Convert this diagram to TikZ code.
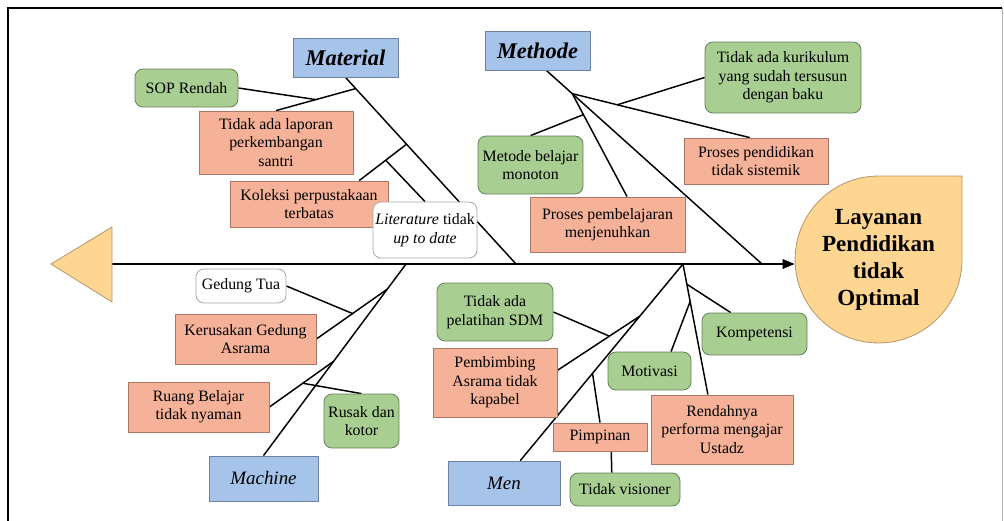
\documentclass[tikz,border=0pt]{standalone}
\usepackage{fontspec}
\setmainfont{Liberation Serif}
\usetikzlibrary{calc,arrows.meta}
\definecolor{bluf}{RGB}{166,196,234}
\definecolor{blub}{RGB}{110,130,160}
\definecolor{salf}{RGB}{245,178,152}
\definecolor{salb}{RGB}{170,120,100}
\definecolor{grnf}{RGB}{168,206,146}
\definecolor{grnb}{RGB}{100,130,90}
\definecolor{headf}{RGB}{255,213,146}
\definecolor{headb}{RGB}{180,150,100}
\pgfdeclarelayer{bg}
\pgfsetlayers{bg,main}
\begin{document}
\begin{tikzpicture}[x=0.75pt,y=-0.75pt,
  sz/.style 2 args={minimum width=#1*0.75pt, minimum height=#2*0.75pt},
  bx/.style={inner sep=0pt, align=center, font=\fontsize{11.9}{13.8}\selectfont, line width=0.6pt},
  salmon/.style={bx, draw=salb, fill=salf},
  greenbox/.style={bx, draw=grnb, fill=grnf, rounded corners=6pt},
  whitebox/.style={bx, draw=gray!70, fill=white, rounded corners=6pt},
  catbox/.style={bx, draw=blub, fill=bluf},
  cattitle/.style={font=\bfseries\itshape\fontsize{16.8}{20}\selectfont},
  catplain/.style={font=\itshape\fontsize{14.2}{17}\selectfont},
  bone/.style={line width=1.1pt, black},
  spine/.style={line width=1.5pt, black, -{Triangle[length=9pt,width=7pt]}}]
\useasboundingbox (0,0) rectangle (1004,521);
% frame
\draw[line width=1.5pt] (8,521) -- (8,8) -- (1002,8);
\draw[gray!60, line width=0.6pt] (1002,8) -- (1002,521);

% tail and head
\draw[headb, fill=headf, line width=0.6pt] (51,264) -- (112,227) -- (112,302) -- cycle;
\coordinate (tailE) at (112,264);
\draw[headb, fill=headf, line width=0.6pt] (962,259.5) arc[start angle=0, end angle=-270, radius=62.6pt] -- (962,176) -- cycle;
\node[circle, minimum size=125.25pt, inner sep=0pt, align=center,
      font=\bfseries\fontsize{17.3}{20.3}\selectfont] (head) at (878.5,260)
      {Layanan\\Pendidikan\\tidak\\Optimal};

% category boxes
\node[catbox, cattitle, sz={105}{39}] (mat) at (345.5,57.5) {Material};
\node[catbox, cattitle, sz={105}{39}] (met) at (537.5,50.5) {Methode};
\node[catbox, catplain, sz={109}{45}] (mac) at (263.5,478.5) {Machine};
\node[catbox, catplain, sz={112}{44}] (men) at (504,483) {Men};

% Material causes
\node[greenbox, sz={103}{38}] (sop) at (186.5,88) {SOP Rendah};
\node[salmon, sz={154}{63}] (lap) at (276,142.5) {Tidak ada laporan\\perkembangan\\santri};
\node[salmon, sz={158}{46}] (kol) at (309,204) {Koleksi perpustakaan\\terbatas};
\node[whitebox, sz={104}{56}] (lit) at (425,230) {\textit{Literature} tidak\\\textit{up to date}};

% Methode causes
\node[greenbox, sz={156}{71}] (kur) at (783,77.5) {Tidak ada kurikulum\\yang sudah tersusun\\dengan baku};
\node[salmon, sz={144}{46}] (pdk) at (756,161) {Proses pendidikan\\tidak sistemik};
\node[greenbox, sz={105}{58}] (mbm) at (530.5,165) {Metode belajar\\monoton};
\node[salmon, sz={155}{55}] (pbl) at (607.5,224.5) {Proses pembelajaran\\menjenuhkan};

% Machine causes
\node[whitebox, sz={90}{34}] (ged) at (241,286) {Gedung Tua};
\node[salmon, sz={141}{50}] (ker) at (245.5,339) {Kerusakan Gedung\\Asrama};
\node[salmon, sz={141}{50}] (rua) at (198.5,407) {Ruang Belajar\\tidak nyaman};
\node[greenbox, sz={75}{54}] (rus) at (361.5,421) {Rusak dan\\kotor};

% Men causes
\node[greenbox, sz={116}{58}] (pel) at (495,312) {Tidak ada\\pelatihan SDM};
\node[salmon, sz={124}{69}] (pem) at (495,382.5) {Pembimbing\\Asrama tidak\\kapabel};
\node[salmon, sz={94}{28}] (pim) at (600,437) {Pimpinan};
\node[greenbox, sz={110}{33}] (tvi) at (625,489.5) {Tidak visioner};
\node[greenbox, sz={83}{38}] (mot) at (649.5,371) {Motivasi};
\node[greenbox, sz={105}{42}] (kom) at (754.5,334) {Kompetensi};
\node[salmon, sz={142}{69}] (ren) at (722,429.5) {Rendahnya\\performa mengajar\\Ustadz};

\begin{pgfonlayer}{bg}
% spine
\draw[spine] (tailE) -- (tailE -| head.west);
% Material
\coordinate (mS) at (516,264);
\draw[bone] (mat.south) -- (mS);
\coordinate (jM1) at ($(mat.south)!0.06!(mS)$);
\coordinate (jM2) at ($(mat.south)!0.358!(mS)$);
\draw[bone] (jM1) -- (lap.north);
\coordinate (jM1b) at ($(jM1)!0.5!(lap.north)$);
\draw[bone] (sop.east) -- (jM1b);
\draw[bone] (jM2) -- (kol.25);
\coordinate (jM2b) at ($(jM2)!0.44!(kol.25)$);
\draw[bone] (jM2b) -- (lit.north);
% Methode
\coordinate (tS) at (762,264);
\draw[bone] (met.-66) -- (tS);
\coordinate (jT) at ($(met.-66)!0.12!(tS)$);
\draw[bone] (jT) -- (pdk.105);
\coordinate (jT1) at ($(jT)!0.254!(pdk.105)$);
\draw[bone] (jT1) -- (kur.west);
\draw[bone] (jT) -- (pbl.55);
\coordinate (jT2) at ($(jT)!0.204!(pbl.55)$);
\draw[bone] (jT2) -- (mbm.north);
% Machine
\coordinate (aS) at (406,264);
\draw[bone] (mac.north) -- (aS);
\coordinate (jA1) at ($(mac.north)!0.869!(aS)$);
\coordinate (jA2) at ($(mac.north)!0.492!(aS)$);
\draw[bone] (jA1) -- (ker.east);
\coordinate (jA1b) at ($(jA1)!0.49!(ker.east)$);
\draw[bone] (ged.east) -- (jA1b);
\draw[bone] (jA2) -- (rua.east);
\coordinate (jA2b) at ($(jA2)!0.48!(rua.east)$);
\draw[bone] (jA2b) -- (rus.north);
% Men
\coordinate (nS) at (683,264);
\draw[bone] (men.54) -- (nS);
\coordinate (jN1) at ($(men.54)!0.735!(nS)$);
\coordinate (jN2) at ($(men.54)!0.444!(nS)$);
\draw[bone] (jN1) -- (pem.11);
\coordinate (jN1b) at ($(jN1)!0.37!(pem.11)$);
\draw[bone] (pel.east) -- (jN1b);
\draw[bone] (jN2) -- (pim.north);
\draw[bone] (pim.-52) -- (tvi.128);
\draw[bone] (nS) -- (ren.112);
\coordinate (jR1) at ($(nS)!0.155!(ren.112)$);
\coordinate (jR2) at ($(nS)!0.287!(ren.112)$);
\draw[bone] (jR1) -- (kom.138);
\draw[bone] (jR2) -- (mot.42);
\end{pgfonlayer}
\end{tikzpicture}
\end{document}
